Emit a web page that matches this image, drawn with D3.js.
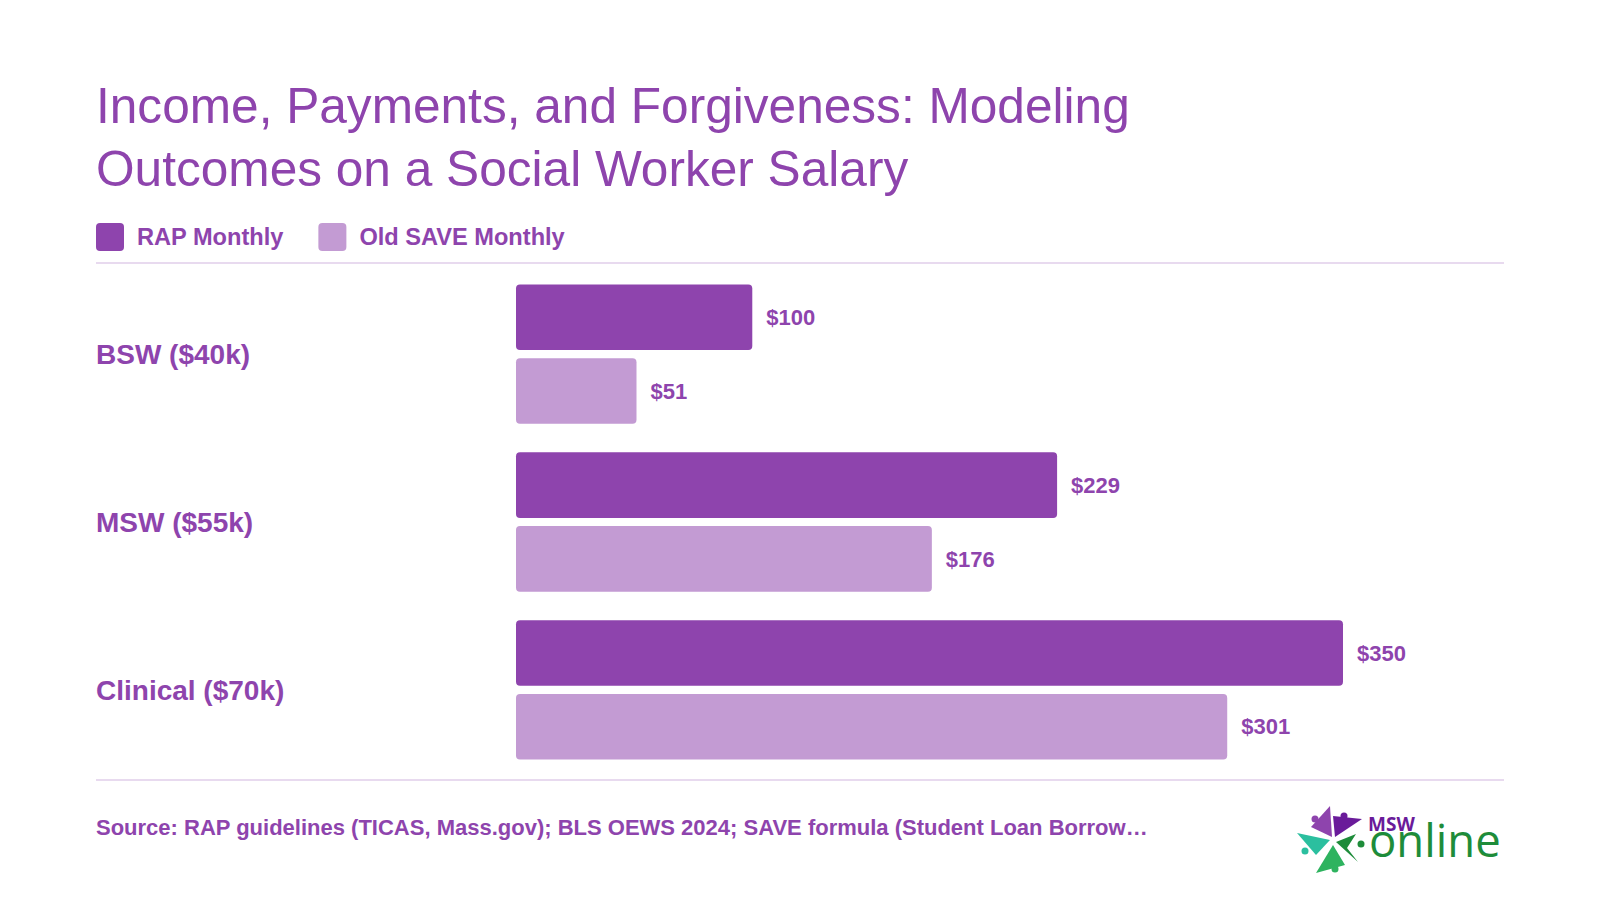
<!DOCTYPE html>
<html>
<head>
<meta charset="utf-8">
<script src="https://cdn.jsdelivr.net/npm/d3@7.9.0/dist/d3.min.js"></script>
<style>
  html, body { margin: 0; padding: 0; background: #fff; }
  svg { display: block; font-family: "Liberation Sans", Arial, Helvetica, sans-serif; }
</style>
</head>
<body>
<svg id="chart" width="1600" height="900"></svg>
<script>
// Data
const categories = ["BSW ($40k)", "MSW ($55k)", "Clinical ($70k)"];
const seriesNames = ["RAP Monthly", "Old SAVE Monthly"];
const rapMonthly = [100, 229, 350];
const saveMonthly = [51, 176, 301];

const titleLines = ["Income, Payments, and Forgiveness: Modeling", "Outcomes on a Social Worker Salary"];
const sourceText = "Source: RAP guidelines (TICAS, Mass.gov); BLS OEWS 2024; SAVE formula (Student Loan Borrow\u2026";

const purple = "#8e44ad";
const colors = d3.scaleOrdinal().domain(seriesNames).range(["#8e44ad", "#c39bd3"]);

const svg = d3.select("#chart");

// Title
svg.append("text")
    .attr("x", 96)
    .attr("y", 123)
    .attr("fill", purple)
    .attr("font-size", 49.6)
    .selectAll("tspan")
    .data(titleLines)
    .join("tspan")
    .attr("x", 96)
    .attr("dy", (d, i) => i === 0 ? 0 : 63)
    .text(d => d);

// Legend
const legend = svg.append("g").attr("transform", "translate(96,223)");
let lx = 0;
seriesNames.forEach(name => {
    const g = legend.append("g").attr("transform", `translate(${lx},0)`);
    g.append("rect")
        .attr("width", 28).attr("height", 28).attr("rx", 4)
        .attr("fill", colors(name));
    const t = g.append("text")
        .attr("x", 41).attr("y", 14).attr("dy", "0.35em")
        .attr("fill", purple)
        .attr("font-size", 23.6)
        .attr("font-weight", "bold")
        .text(name);
    lx += 41 + t.node().getComputedTextLength() + 35;
});

// Dividers
[263, 780].forEach(y => {
    svg.append("line")
        .attr("x1", 96).attr("x2", 1504)
        .attr("y1", y).attr("y2", y)
        .attr("stroke", "#e8daef").attr("stroke-width", 2);
});

// Scales
const x = d3.scaleLinear().domain([0, 350]).range([516, 1343]);
const y = d3.scaleBand().domain(categories).range([271, 773]).paddingInner(0.17).paddingOuter(0.08);
const ySub = d3.scaleBand().domain(seriesNames).range([0, y.bandwidth()]).paddingInner(0.11);

const rows = categories.map((c, i) => ({
    category: c,
    values: [
        { series: seriesNames[0], value: rapMonthly[i] },
        { series: seriesNames[1], value: saveMonthly[i] }
    ]
}));

const groups = svg.append("g")
    .selectAll("g")
    .data(rows)
    .join("g")
    .attr("transform", d => `translate(0,${y(d.category)})`);

// Category labels
groups.append("text")
    .attr("x", 96)
    .attr("y", y.bandwidth() / 2)
    .attr("dy", "0.35em")
    .attr("fill", purple)
    .attr("font-size", 28)
    .attr("font-weight", "bold")
    .text(d => d.category);

// Bars
groups.selectAll("rect")
    .data(d => d.values)
    .join("rect")
    .attr("x", x(0))
    .attr("y", d => ySub(d.series))
    .attr("width", d => x(d.value) - x(0))
    .attr("height", ySub.bandwidth())
    .attr("rx", 4)
    .attr("fill", d => colors(d.series));

// Value labels
groups.selectAll("text.value")
    .data(d => d.values)
    .join("text")
    .attr("class", "value")
    .attr("x", d => x(d.value) + 14)
    .attr("y", d => ySub(d.series) + ySub.bandwidth() / 2)
    .attr("dy", "0.35em")
    .attr("fill", purple)
    .attr("font-size", 22)
    .attr("font-weight", "bold")
    .text(d => "$" + d.value);

// Source
svg.append("text")
    .attr("x", 96).attr("y", 835)
    .attr("fill", purple)
    .attr("font-size", 22)
    .attr("font-weight", "bold")
    .text(sourceText);

// Logo (MSW online)
const logo = svg.append("g").attr("transform", "translate(1332,840)");
const arms = [
    { pts: [[-21, -13], [-2, -34], [0, -3]], head: [-17, -21], color: "#8e44ad" },
    { pts: [[1, -24], [30, -21], [3, -3]], head: [12, -24], color: "#6a1b9a" },
    { pts: [[-35, -7], [-2, 0], [-16, 15]], head: [-27, 11], color: "#2bbf9f" },
    { pts: [[1, 5], [-16, 33], [13, 25]], head: [3, 29], color: "#2eb35f" },
    { pts: [[4, 2], [24, -6], [15, 8], [26, 22]], head: [29, 4], color: "#1e8c3a" }
];
arms.forEach(a => {
    logo.append("path")
        .attr("d", "M" + a.pts.map(p => p.join(",")).join("L") + "Z")
        .attr("fill", a.color);
    logo.append("circle")
        .attr("cx", a.head[0]).attr("cy", a.head[1]).attr("r", 3.5)
        .attr("fill", a.color);
});
svg.append("text")
    .attr("x", 1368).attr("y", 831)
    .attr("fill", "#6a1b9a")
    .attr("font-size", 19)
    .attr("font-weight", "bold")
    .attr("font-family", "Open Sans, Liberation Sans, sans-serif")
    .text("MSW");
svg.append("text")
    .attr("x", 1369).attr("y", 857)
    .attr("fill", "#1e8c3a")
    .attr("font-size", 45.5)
    .attr("font-family", "Open Sans, Liberation Sans, sans-serif")
    .text("online");
</script>
</body>
</html>
